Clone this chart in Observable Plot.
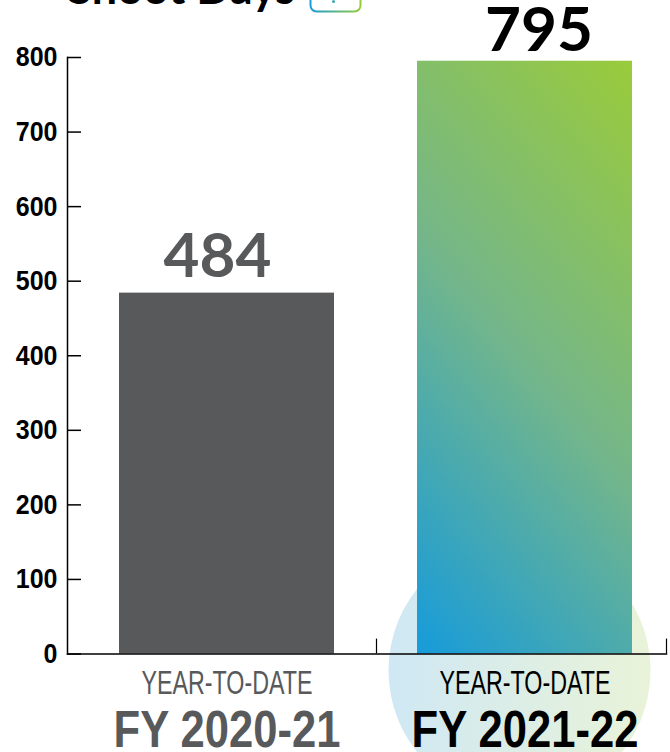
<!DOCTYPE html>
<html>
<head>
<meta charset="utf-8">
<script src="https://cdn.jsdelivr.net/npm/d3@7"></script>
<script src="https://cdn.jsdelivr.net/npm/@observablehq/plot@0.6"></script>
<style>
  html, body { margin: 0; padding: 0; background: #fff; overflow: hidden; }
  svg { display: block; }
</style>
</head>
<body>
<div id="chart"></div>
<script>
const periods = ["FY 2020-21", "FY 2021-22"];
const shootDays = [484, 795];
const periodNote = "YEAR-TO-DATE";
const yTicks = [0, 100, 200, 300, 400, 500, 600, 700, 800];
const chartTitle = "Shoot Days";
const labelColors = ["#58595b", "#000000"];

const rows = periods.map((period, i) => ({period, days: shootDays[i], color: labelColors[i]}));
const body = "'Liberation Sans', sans-serif";
const rounded = "Lato, sans-serif";

// Gradient definitions shared by the highlighted bar, the halo and the title badge.
function gradients() {
  const defs = d3.create("svg:defs");
  const add = (id, attrs, stops) => {
    const g = defs.append("linearGradient").attr("id", id);
    Object.entries(attrs).forEach(([k, v]) => g.attr(k, v));
    stops.forEach(([o, c]) => g.append("stop").attr("offset", o).attr("stop-color", c));
  };
  add("barFill", {x1: 0, y1: 1, x2: 0.517, y2: -0.207}, [[0, "#169bdb"], [0.5, "#74b68a"], [1, "#9acb3a"]]);
  add("haloFill", {x1: 0, y1: 0, x2: 1, y2: 0}, [[0, "#cfe8f4"], [1, "#e9f3d8"]]);
  add("badgeStroke", {x1: 0, y1: 0, x2: 1, y2: 0}, [[0, "#1a9cd9"], [1, "#98cb3c"]]);
  return defs.node();
}

// Condenses a text mark's labels to a given run length, since no narrow face is available.
const squeeze = (lengthOf) => (index, scales, values, dimensions, context, next) => {
  const g = next(index, scales, values, dimensions, context);
  d3.select(g).selectAll("text")
    .attr("lengthAdjust", "spacingAndGlyphs")
    .attr("textLength", function () { return lengthOf(this.textContent); });
  return g;
};

const plot = Plot.plot({
  width: 670,
  height: 752,
  marginLeft: 67,
  marginTop: 57,
  marginBottom: 98.5,
  marginRight: 4,
  style: {background: "transparent", overflow: "visible"},
  x: {type: "band", domain: periods, range: [77.5, 673.5], paddingInner: 0.2785, paddingOuter: 0.139, axis: null},
  y: {domain: [0, 800], axis: null},
  marks: [
    gradients,
    // Soft circle behind the current year
    Plot.dot([periods[1]], {x: d => d, frameAnchor: "bottom", dx: -5.5, dy: 16.5, r: 131, fill: "url(#haloFill)", stroke: "none"}),
    Plot.barY(rows, {x: "period", y: "days", fill: (d, i) => i ? "url(#barFill)" : "#58595b"}),

    // Axis lines and ticks
    Plot.frame({anchor: "bottom", stroke: "#000", strokeWidth: 1.5}),
    Plot.frame({anchor: "left", stroke: "#000", strokeWidth: 1.5}),
    Plot.ruleY(yTicks, {insetRight: 585, stroke: "#000", strokeWidth: 1.5}),
    Plot.ruleX([periods[0]], {x: d => d, dx: 149.5, y1: 0, y2: 20, stroke: "#000", strokeWidth: 1.2}),
    Plot.ruleX([periods[1]], {x: d => d, dx: 141.5, y1: 0, y2: 20, stroke: "#000", strokeWidth: 1.2}),
    Plot.text(yTicks, {y: d => d, text: d => String(d), frameAnchor: "left", textAnchor: "end", dx: -10, fontFamily: body, fontWeight: 700, fontSize: 28, render: squeeze(s => s.length * 13.9)}),

    // Value labels
    Plot.text(rows.slice(0, 1), {x: "period", y: "days", text: d => String(d.days), fill: "color", dx: -9.5, dy: -36, fontFamily: rounded, fontWeight: 700, fontSize: 62}),
    Plot.text(rows.slice(1), {x: "period", y: "days", text: d => String(d.days), fill: "color", dx: 14, dy: -30, fontFamily: rounded, fontWeight: 700, fontSize: 62, render: squeeze(() => 108)}),

    // Category labels under the baseline
    Plot.text(periods, {x: d => d, frameAnchor: "bottom", lineAnchor: "middle", dy: 29.5, text: () => periodNote, fill: (d, i) => labelColors[i], fontFamily: body, fontSize: 33, render: squeeze(() => 171)}),
    Plot.text(periods, {x: d => d, frameAnchor: "bottom", lineAnchor: "middle", dy: 76.5, text: d => d, fill: (d, i) => labelColors[i], fontFamily: body, fontWeight: 700, fontSize: 52, render: squeeze(() => 227)}),

    // Title and its badge, both running off the top edge
    Plot.text([chartTitle], {text: d => d, frameAnchor: "top-left", textAnchor: "start", lineAnchor: "bottom", dy: -53.5, fontFamily: rounded, fontWeight: 700, fontSize: 45}),
    Plot.frame({insetLeft: 243, insetRight: 306, insetTop: -97, insetBottom: 642.5, rx: 6, fill: "none", stroke: "url(#badgeStroke)", strokeWidth: 2}),
    Plot.dot([chartTitle], {frameAnchor: "top-left", dx: 266, dy: -56, r: 1.5, fill: "#35a9b0", stroke: "none"})
  ]
});
document.getElementById("chart").append(plot);
</script>
</body>
</html>
